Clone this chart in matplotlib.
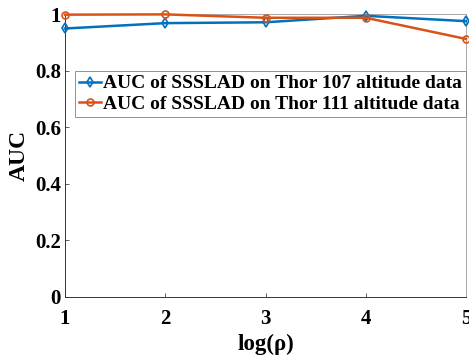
import matplotlib
matplotlib.use("Agg")
import matplotlib.pyplot as plt

# values
log_rho = [1, 2, 3, 4, 5]
auc_thor107 = [0.950, 0.969, 0.972, 0.995, 0.976]
auc_thor111 = [0.999, 1.000, 0.988, 0.988, 0.913]
yticks = [0, 0.2, 0.4, 0.6, 0.8, 1]
ytick_labels = ["0", "0.2", "0.4", "0.6", "0.8", "1"]
labels = ["AUC of SSSLAD on Thor 107 altitude data",
          "AUC of SSSLAD on Thor 111 altitude data"]

plt.rcParams["font.family"] = ["Liberation Serif", "DejaVu Serif"]
plt.rcParams["font.weight"] = "bold"

fig = plt.figure(figsize=(4.69, 3.56), dpi=100)
ax = fig.add_axes([0.1386, 0.1666, 0.855, 0.793])

ax.plot(log_rho, auc_thor107, color="#0072BD", linewidth=1.8, marker="d",
        markersize=5, markerfacecolor="none", markeredgewidth=1.2,
        label=labels[0], clip_on=False, zorder=3)
ax.plot(log_rho, auc_thor111, color="#D95319", linewidth=1.8, marker="o",
        markersize=5, markerfacecolor="none", markeredgewidth=1.2,
        label=labels[1], clip_on=False, zorder=3)

ax.set_xlim(1, 5)
ax.set_ylim(0, 1)
ax.set_xticks(log_rho)
ax.set_yticks(yticks)
ax.set_yticklabels(ytick_labels)
ax.tick_params(direction="in", length=3, width=0.6, labelsize=15,
               color="#444444", pad=3)
ax.tick_params(axis="x", pad=9)
for lab in ax.get_xticklabels() + ax.get_yticklabels():
    lab.set_fontweight("bold")

for side in ["left", "bottom"]:
    ax.spines[side].set_color("#333333")
    ax.spines[side].set_linewidth(0.7)
for side in ["top", "right"]:
    ax.spines[side].set_color("#aaaaaa")
    ax.spines[side].set_linewidth(0.7)

ax.set_xlabel("log(\u03c1)", fontsize=16.5, fontweight="bold", labelpad=3)
ax.set_ylabel("AUC", fontsize=17, fontweight="bold", labelpad=4)

leg = ax.legend(loc="upper left", bbox_to_anchor=(0.025, 0.80),
                prop={"size": 14, "weight": "bold"}, frameon=True,
                fancybox=False, edgecolor="#777777", handlelength=1.15,
                handletextpad=0.1, borderpad=0.2, labelspacing=0.15,
                borderaxespad=0)
leg.get_frame().set_linewidth(0.7)

fig.savefig("out.png", dpi=100)
